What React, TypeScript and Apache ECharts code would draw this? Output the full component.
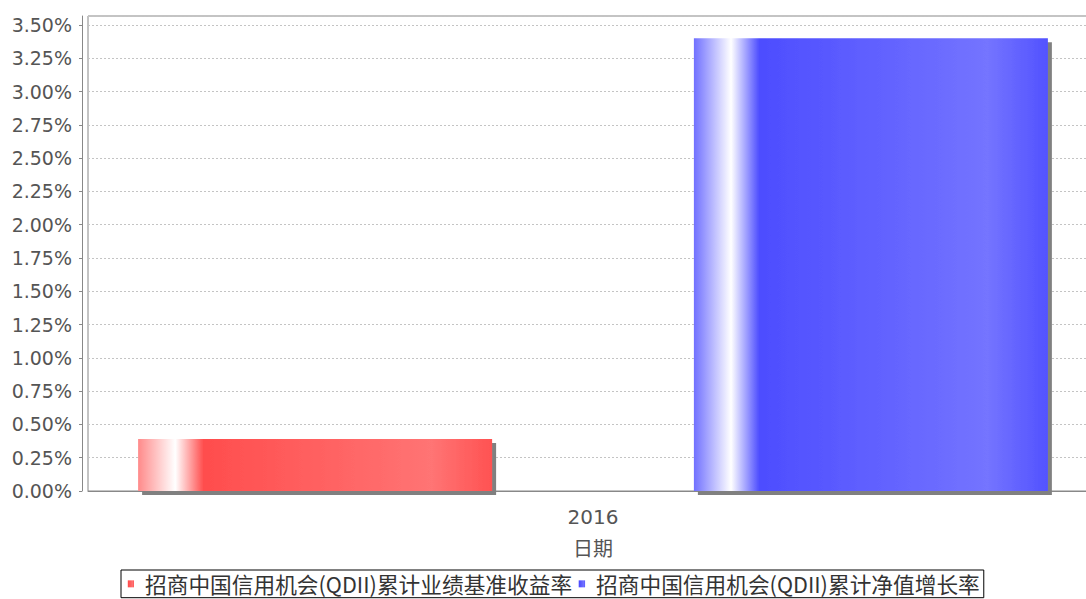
import React, { useEffect, useRef } from "react";
import * as echarts from "echarts";

const categories = ["2016"];
const seriesNames = [
  "招商中国信用机会(QDII)累计业绩基准收益率",
  "招商中国信用机会(QDII)累计净值增长率",
];
const benchmarkValues = [0.39];
const navValues = [3.4];
const yTickStep = 0.25;
const yMax = 3.5676;

function grad(c0: string, cMain: string, cLight: string, cEnd: string) {
  return new echarts.graphic.LinearGradient(0, 0, 1, 0, [
    { offset: 0, color: c0 },
    { offset: 0.105, color: "#ffffff" },
    { offset: 0.185, color: cMain },
    { offset: 0.83, color: cLight },
    { offset: 1, color: cEnd },
  ]);
}

export default function App() {
  const ref = useRef<HTMLDivElement>(null);
  useEffect(() => {
    const chart = echarts.init(ref.current!, null, { renderer: "svg" });
    const tickFont = { fontFamily: "DejaVu Sans", fontSize: 19, color: "#555" };
    chart.setOption({
      animation: false,
      backgroundColor: "#ffffff",
      grid: {
        left: 88,
        top: 16,
        width: 1010,
        height: 475,
        show: true,
        borderColor: "#888",
        borderWidth: 1,
        backgroundColor: "#ffffff",
      },
      legend: {
        left: 121,
        top: 570,
        orient: "horizontal",
        padding: [3, 4, 3, 6],
        borderColor: "#000",
        borderWidth: 1,
        itemWidth: 7,
        itemHeight: 7,
        itemGap: 6,
        icon: "rect",
        textStyle: { fontFamily: "Noto Sans CJK SC", fontSize: 21.7, color: "#333", padding: [0, 0, 0, 6] },
        data: seriesNames,
      },
      xAxis: {
        type: "category",
        data: categories,
        offset: 5,
        axisLine: { show: true, lineStyle: { color: "#888", width: 1 } },
        axisTick: { show: false },
        axisLabel: { ...tickFont, fontSize: 20, margin: 11 },
        name: "日期",
        nameLocation: "middle",
        nameGap: 41,
        nameTextStyle: { fontFamily: "Noto Sans CJK SC", fontSize: 20, color: "#555" },
      },
      yAxis: {
        type: "value",
        min: 0,
        max: yMax,
        interval: yTickStep,
        offset: 6,
        axisLine: { show: true, lineStyle: { color: "#888", width: 1 } },
        axisTick: { show: true, length: 3, lineStyle: { color: "#888" } },
        axisLabel: {
          ...tickFont,
          margin: 10,
          showMaxLabel: false,
          formatter: (v: number) => v.toFixed(2) + "%",
        },
        splitLine: {
          show: true,
          lineStyle: { color: "#c4c4c4", type: [2, 2], width: 1 },
        },
      },
      series: [
        {
          name: seriesNames[0],
          type: "bar",
          data: benchmarkValues,
          barWidth: 354,
          barGap: "57%",
          itemStyle: {
            color: grad("#ff8a8a", "#ff4d4d", "#ff7474", "#ff5252"),
            shadowColor: "#808080",
            shadowOffsetX: 4,
            shadowOffsetY: 4,
            shadowBlur: 0,
          },
        },
        {
          name: seriesNames[1],
          type: "bar",
          data: navValues,
          barWidth: 354,
          barGap: "57%",
          itemStyle: {
            color: grad("#7070ff", "#4d4dff", "#7474ff", "#5252ff"),
            shadowColor: "#808080",
            shadowOffsetX: 4,
            shadowOffsetY: 4,
            shadowBlur: 0,
          },
        },
      ],
    });
    return () => chart.dispose();
  }, []);
  return (
    <div
      ref={ref}
      style={{ position: "fixed", left: 0, top: 0, width: 1110, height: 599, background: "#fff" }}
    />
  );
}
